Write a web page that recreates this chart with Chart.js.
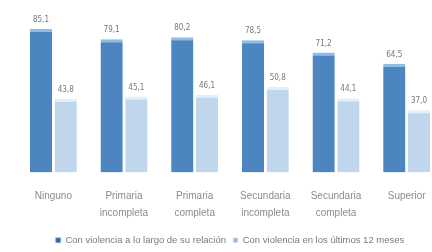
<!DOCTYPE html>
<html lang="es">
<head>
<meta charset="UTF-8">
<title>Violencia según nivel educativo</title>
<script src="https://cdn.jsdelivr.net/npm/chart.js"></script>
<style>
    html, body { margin: 0; padding: 0; background: #fff; overflow: hidden; }
    .wrap { position: relative; width: 445px; height: 252px; }
</style>
</head>
<body>
<div class="wrap"><canvas id="chart" width="445" height="252"></canvas></div>
<script>
    // categorias (nivel educativo)
    const categories = [
        ['Ninguno'],
        ['Primaria', 'incompleta'],
        ['Primaria', 'completa'],
        ['Secundaria', 'incompleta'],
        ['Secundaria', 'completa'],
        ['Superior']
    ];
    const seriesNames = ['Con violencia a lo largo de su relación', 'Con violencia en los últimos 12 meses'];
    const alongRelation = [85.1, 79.1, 80.2, 78.5, 71.2, 64.5];
    const last12Months = [43.8, 45.1, 46.1, 50.8, 44.1, 37.0];

    function barFill(base, edge) {
        return ctx => {
            const el = ctx.element;
            if (!el || el.width === undefined || !isFinite(el.x)) return base;
            const g = ctx.chart.ctx.createLinearGradient(el.x - el.width / 2, 0, el.x + el.width / 2, 0);
            g.addColorStop(0, edge);
            g.addColorStop(0.45, base);
            g.addColorStop(1, edge);
            return g;
        };
    }

    // etiquetas encima de cada barra
    const valueLabels = {
        id: 'valueLabels',
        afterDatasetsDraw(chart) {
            const c = chart.ctx;
            c.save();
            c.font = '8px "Liberation Sans Narrow", "DejaVu Sans Condensed", sans-serif';
            c.fillStyle = '#777';
            c.textAlign = 'center';
            c.textBaseline = 'bottom';
            chart.data.datasets.forEach((ds, i) => {
                chart.getDatasetMeta(i).data.forEach((bar, j) => {
                    c.fillText(ds.data[j].toFixed(1).replace('.', ','), bar.x, bar.y - 5);
                });
            });
            c.restore();
        }
    };

    new Chart(document.getElementById('chart'), {
        type: 'bar',
        data: {
            labels: categories,
            datasets: [{
                label: seriesNames[0],
                data: alongRelation,
                backgroundColor: barFill('#4c85bf', '#2e64a0'),
                borderColor: '#8fbde6',
                borderWidth: { top: 3, left: 0, right: 0, bottom: 0 },
                borderSkipped: false
            }, {
                label: seriesNames[1],
                data: last12Months,
                backgroundColor: barFill('#c0d6ed', '#9ebcdc'),
                borderColor: '#e4eef8',
                borderWidth: { top: 3, left: 0, right: 0, bottom: 0 },
                borderSkipped: false
            }]
        },
        options: {
            responsive: false,
            animation: false,
            devicePixelRatio: 1,
            layout: { padding: { top: 4, left: 18, right: 3, bottom: -3 } },
            datasets: { bar: { categoryPercentage: 0.7, barPercentage: 0.9 } },
            scales: {
                x: {
                    grid: { display: false },
                    border: { display: false },
                    ticks: {
                        color: '#8c8c8c',
                        font: { size: 10, family: '"Liberation Sans Narrow", "Liberation Sans", sans-serif', lineHeight: 1.7 },
                        padding: 7,
                        maxRotation: 0
                    }
                },
                y: { display: false, min: 0, max: 100 }
            },
            plugins: {
                legend: {
                    position: 'bottom',
                    labels: {
                        boxWidth: 5,
                        boxHeight: 5,
                        color: '#7a7a7a',
                        padding: 7,
                        font: { size: 9.5, family: '"Liberation Sans Narrow", "Liberation Sans", sans-serif' }
                    }
                },
                tooltip: { enabled: false }
            }
        },
        plugins: [valueLabels]
    });
</script>
</body>
</html>
